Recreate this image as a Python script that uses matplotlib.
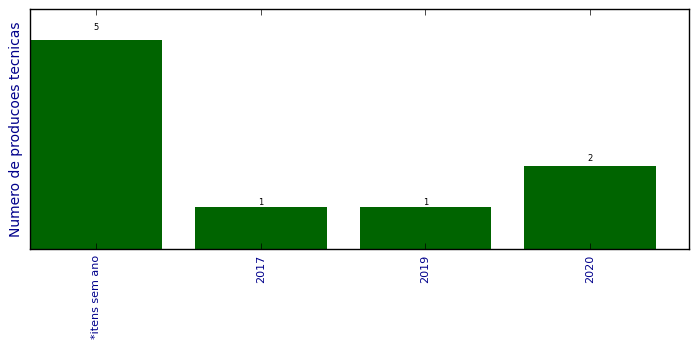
import numpy as np
import matplotlib
matplotlib.use('Agg')
import matplotlib.pyplot as plt

plt.style.use('classic')

anos = ['*itens sem ano', '2017', '2019', '2020']
qtd = [5, 1, 1, 2]

x = np.arange(len(anos))

fig = plt.figure(figsize=(6.99, 3.49), dpi=100)
ax = fig.add_axes([30/699, 1 - 249/349, 659/699, 240/349])

ax.bar(x, qtd, width=0.8, align='center', color='darkgreen', edgecolor='darkgreen', linewidth=0)
for xi, v in zip(x, qtd):
    ax.text(xi, 1.05*v, str(v), ha='center', va='baseline', fontsize=6)

ax.set_xlim(-0.4, 3.6)
ax.set_ylim(0, 5.75)
ax.set_xticks(x)
ax.set_xticklabels(anos, rotation=90, fontsize=8, color='darkblue')
ax.set_yticks([])
ax.set_ylabel('Numero de producoes tecnicas', fontsize=10, color='darkblue')

plt.savefig('out.png', dpi=100)
